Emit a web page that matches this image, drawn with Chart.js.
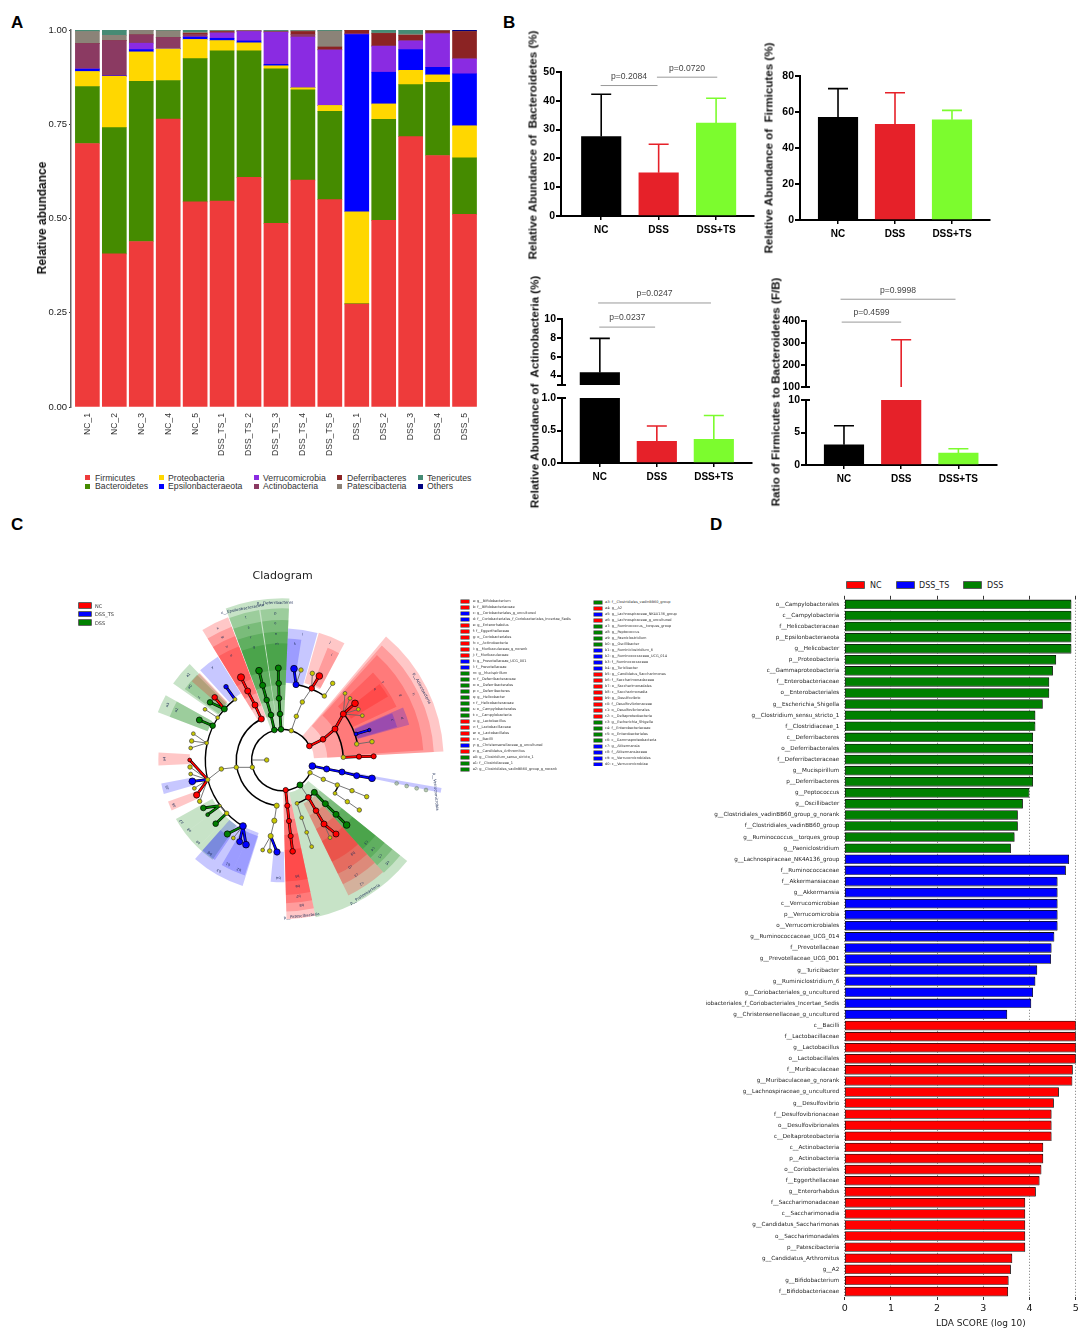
<!DOCTYPE html>
<html lang="en">
  <head>
    <meta charset="UTF-8" />
    <title>Gut microbiota composition, cladogram and LDA scores</title>
    <script src="https://cdn.jsdelivr.net/npm/chart.js"></script>
    <style>
      body { margin: 0; background: #fff; }
      #page { position: relative; width: 1084px; height: 1334px; overflow: hidden; background: #fff; filter: blur(0.35px); }
      #page canvas { position: absolute; }
      .txt { position: absolute; white-space: pre; transform: translateY(-50%); color: #222; }
      .vtxt { position: absolute; white-space: pre; transform: translate(-50%, -50%) rotate(-90deg); color: #111; }
      .swatch { position: absolute; box-sizing: border-box; }
    </style>
  </head>
  <body>
    <div id="page"></div>
    <script>
      const SANS = '"Liberation Sans", Arial, sans-serif';
      const DEJAVU = '"DejaVu Sans", sans-serif';

      // ---- panel A: relative abundance per sample
      const sampleNames = ["NC_1","NC_2","NC_3","NC_4","NC_5","DSS_TS_1","DSS_TS_2","DSS_TS_3","DSS_TS_4","DSS_TS_5","DSS_1","DSS_2","DSS_3","DSS_4","DSS_5"];
      const firmicutes      = [.699,.406,.439,.764,.544,.546,.609,.487,.602,.550,.273,.495,.717,.667,.511];
      const bacteroidetes   = [.151,.335,.425,.102,.380,.399,.336,.410,.239,.234,.001,.268,.138,.194,.150];
      const proteobacteria  = [.040,.136,.078,.084,.051,.027,.021,.008,.006,.016,.244,.041,.038,.020,.085];
      const epsilonbact     = [.006,.001,.006,.000,.006,.006,.005,.004,.000,.000,.470,.084,.055,.020,.138];
      const verrucomicrobia = [.001,.000,.017,.001,.001,.014,.025,.085,.134,.147,.001,.069,.023,.089,.039];
      const actinobacteria  = [.067,.094,.022,.029,.006,.002,.001,.001,.007,.001,.001,.001,.001,.002,.002];
      const deferribacteres = [.000,.000,.000,.000,.003,.002,.000,.000,.008,.007,.009,.033,.014,.006,.071];
      const patescibacteria = [.032,.014,.012,.018,.003,.002,.002,.002,.002,.042,.000,.001,.003,.001,.000];
      const tenericutes     = [.004,.014,.001,.002,.006,.002,.001,.003,.002,.003,.001,.008,.011,.001,.000];
      const others          = [.000,.000,.000,.000,.000,.000,.000,.000,.000,.000,.000,.000,.000,.000,.004];
      const phylumNames  = ["Firmicutes","Bacteroidetes","Proteobacteria","Epsilonbacteraeota","Verrucomicrobia","Actinobacteria","Deferribacteres","Patescibacteria","Tenericutes","Others"];
      const phylumValues = [firmicutes,bacteroidetes,proteobacteria,epsilonbact,verrucomicrobia,actinobacteria,deferribacteres,patescibacteria,tenericutes,others];
      const phylumColors = ["#EE3B3B","#458B00","#FFD700","#0000FF","#8A2BE2","#8B3A62","#8B2323","#8B8378","#458B74","#000080"];
      const abundanceTicks = [0, 0.25, 0.5, 0.75, 1];

      // ---- panel B: group means, upper error values
      const groupNames = ["NC", "DSS", "DSS+TS"];
      const groupColors = ["#000000", "#E62129", "#7CFC2E"];
      const bactMeans = [27.6, 15, 32.3];
      const bactTops = [42.3, 24.9, 40.9];
      const firmMeans = [57, 53.1, 55.7];
      const firmTops = [73, 70.7, 60.9];
      const actinoMeans = [4.33, 0.335, 0.365];
      const actinoTops = [7.95, 0.57, 0.73];
      const ratioMeans = [3.1, 60, 1.83];
      const ratioTops = [6.04, 315, 2.49];
      // from group, to group, height on the value axis, text
      const bactBrackets = [[-0.01, 0.98, 45.3, "p=0.2084"], [0.97, 2.02, 48.2, "p=0.0720"]];
      const actinoBrackets = [[-0.01, 0.97, 9.14, "p=0.0237"], [-0.03, 1.95, 11.7, "p=0.0247"]];
      const ratioBrackets = [[-0.04, 1, 395, "p=0.4599"], [-0.06, 1.95, 499, "p=0.9998"]];

      // ---- panel C: cladogram, drawn in a 1200 x 1110 data space around (667, 600)
      const cladeCentre = [667, 600];
      // start angle, end angle, inner radius, outer radius, clade
      const cladeWedges = [
        [3,50,95,484,"r"],[3,49,135,455,"r"],[4,48,180,424,"r"],[25,44,232,378,"r"],[31,38,240,370,"r"],
        [15.5,23.5,235,395,"b"],[16,23,235,358,"b"],
        [87.5,110.5,95,485,"g"],[98.8,110.5,135,455,"g"],[87.5,98.3,135,455,"g"],[98.8,110.5,180,420,"g"],[87.5,98.3,180,420,"g"],
        [98.8,110.5,225,385,"g"],[87.5,98.3,225,385,"g"],[98.8,110.5,270,350,"g"],[87.5,98.3,270,350,"g"],
        [110.8,121.6,138,458,"r"],[110.8,121.6,175,428,"r"],[110.8,121.6,215,398,"r"],[110.8,121.6,260,365,"r"],
        [74.5,87.5,232,395,"b"],[81,87.5,232,365,"b"],
        [62,74,240,397,"r"],[62,68,245,363,"r"],
        [122,132.5,235,365,"b"],
        [134,145,235,400,"g"],[135,144,235,362,"g"],[133.5,139,240,360,"r"],
        [151,159,240,400,"g"],[151,159,240,362,"g"],
        [176.5,182.5,278,372,"r"],[191,196,278,370,"b"],[200,204.5,280,365,"r"],
        [209,217,240,365,"g"],[217,226,240,365,"g"],[226,235,240,365,"g"],
        [228.5,236,280,362,"b"],[228.6,252.5,240,396,"b"],[240,246,230,364,"b"],[246,252,230,364,"b"],
        [264.5,271,275,367,"b"],
        [271.5,282,95,478,"r"],[271.5,282,135,455,"r"],[271.5,282,180,430,"r"],[271.5,282,225,405,"r"],[271.5,282,270,365,"r"],
        [282,321,100,482,"g"],
        [296,312,145,452,"r"],[296,312,185,415,"r"],[296,312,230,380,"r"],[296,312,270,340,"r"],
        [312,321,145,455,"g"],[312,321,185,425,"g"],[312,321,230,395,"g"],[312,321,270,360,"g"],
        [348.3,350,90,485,"b"],
      ];
      // radius, start angle, end angle of the black backbone arcs
      const cladeArcs = [[92,27,335],[138,117,263],[231,128,239],[183,2.5,30.5],[231,12,37],[230,56.7,79.7],[137,288.7,315],[185,327.7,335.6]];
      const redNodes = [[748,558,2.5],[789,538,2.5],[825,507,2.7],[850,462,2.7],[885,430,3],[897,590,2.3],[941,589,2.3],[755,385,2.5],[778,348,3],[604,477,2.7],[585,435,2.7],[563,393,2.7],[543,352,3.2],[464,412,2.5],[389,600,1.7],[410,705,2.8],[677,690,2.3],[682,737,2.3],[687,783,2.3],[692,828,2.3],[698,874,2.5],[745,712,2.5],[768,752,2.5],[792,792,2.7],[828,822,2.7]];
      const greenNodes = [[663,508,2.5],[660,462,2.5],[657,415,2.5],[656,370,2.5],[655,324,2.7],[643,510,2.5],[633,465,2.5],[620,420,2.5],[608,376,2.7],[597,332,3],[493,447,2.7],[450,427,2.5],[458,497,2.5],[418,480,2.7],[430,744,2.5],[443,764,1.7],[467,791,2.5],[502,822,2.8],[720,675,2.7],[763,697,2.7],[796,731,2.7],[828,763,2.7],[860,795,3]];
      const blueNodes = [[757,618,3],[800,627,2.7],[846,636,2.7],[890,647,2.7],[936,655,3],[708,374,2.7],[702,326,3],[888,522,1.7],[928,510,1.5],[498,380,2],[397,664,3],[549,798,3],[539,845,2.7],[558,854,3],[651,876,2.8]];
      const yellowNodes = [[694,512,2],[709,469,2],[727,426,2],[757,340,2],[723,330,2],[793,408,2],[818,370,2],[850,592,2],[855,400,1.7],[870,415,1.7],[895,448,1.7],[907,467,1.7],[890,552,2],[936,545,2],[525,418,1.7],[473,473,1.7],[435,448,1.7],[440,549,1.7],[400,521,1.7],[395,543,2],[392,564,1.7],[529,622,2],[577,622,2],[620,600,2],[484,627,2],[443,659,2],[390,621,2],[392,642,1.7],[403,685,1.7],[419,724,2],[480,737,1.2],[500,760,2],[520,834,1.7],[650,737,2.3],[643,782,2.3],[632,828,2.3],[608,870,1.7],[629,873,2],[711,730,1.7],[725,773,1.7],[740,817,1.7],[755,860,1.7],[810,833,1.7],[750,638,2],[790,658,2],[832,675,2],[876,692,2],[920,710,2],[825,700,1.7],[862,725,2],[898,750,2]];
      const paleNodes = [[1010,670,1.7],[1040,678,1.7],[1070,685,1.7],[1098,690,1.7]];
      const redEdges = [[[748,558],[789,538],[825,507],[850,462],[885,430]],[[850,592],[897,590],[941,589]],[[755,385],[778,348]],[[604,477],[585,435],[563,393],[543,352]],[[493,447],[464,412]],[[443,659],[389,600]],[[443,659],[410,705]],[[677,690],[682,737],[687,783],[692,828],[698,874]],[[745,712],[768,752],[792,792],[828,822]]];
      const greenEdges = [[[663,508],[660,462],[657,415],[656,370],[655,324]],[[643,510],[633,465],[620,420],[608,376],[597,332]],[[493,447],[450,427]],[[458,497],[418,480]],[[480,737],[430,744]],[[480,737],[443,764]],[[500,760],[467,791]],[[549,798],[502,822]],[[763,697],[796,731],[828,763],[860,795]]];
      const blueEdges = [[[757,618],[800,627],[846,636],[890,647],[936,655]],[[708,374],[702,326]],[[888,522],[928,510]],[[525,418],[498,380]],[[443,659],[397,664]],[[549,798],[539,845]],[[549,798],[558,854]],[[632,828],[651,876]]];
      const grayEdges = [[[694,512],[709,469],[727,426],[755,385]],[[755,385],[757,340]],[[708,374],[723,330]],[[793,408],[818,370]],[[850,462],[855,400]],[[850,462],[870,415]],[[850,462],[895,448]],[[850,462],[907,467]],[[890,552],[936,545]],[[473,473],[435,448]],[[440,549],[400,521]],[[440,549],[395,543]],[[440,549],[392,564]],[[620,600],[576,600]],[[577,622],[529,622],[484,627],[443,659]],[[443,659],[390,621]],[[443,659],[392,642]],[[443,659],[403,685]],[[443,659],[419,724]],[[500,760],[480,737]],[[549,798],[520,834]],[[650,737],[643,782],[632,828],[608,870]],[[632,828],[629,873]],[[711,730],[725,773],[740,817],[755,860]],[[792,792],[810,833]],[[750,638],[790,658],[832,675],[876,692],[920,710]],[[825,700],[862,725],[898,750]],[[720,675],[745,712]]];
      const cladeLetters = [["t",557,172],["s",566,203],["r",573,232],["q",582,262],["p",646,160],["o",646,190],["n",648,222],["m",651,252],["x",473,205],["w",487,232],["v",500,260],["u",513,286],["l",727,224],["k",705,252],["j",810,248],["i",815,285],["h",1060,403],["g",1022,405],["f",967,368],["e",945,388],["c",997,480],["d",1026,475],["y",457,322],["z",417,412],["a1",385,345],["a0",390,380],["a3",323,435],["a2",350,450],["a4",314,597],["a5",322,682],["a6",342,735],["a7",365,785],["a8",388,810],["a9",415,847],["b0",450,880],["b3",477,932],["b1",504,912],["b2",537,928],["b4",655,953],["b5",711,948],["b6",713,978],["b7",715,1008],["b8",725,1035],["b9",878,880],["c0",870,920],["c1",888,945],["c2",905,970],["c3",918,847],["c4",938,867],["c5",960,888],["c6",982,908]];
      const cladeNames = [["p__Actinobacteria",1085,385,62],["c__Epsilonbacteraeota",548,147,-11],["p__Deferribacteres",645,129,-1],["p__Patescibacteria",725,1068,-6],["p__Proteobacteria",915,1003,-33],["p__Verrucomicrobia",1127,695,85]];
      const legendCol1 = [["a: g__Bifidobacterium","r"],["b: f__Bifidobacteriaceae","r"],["c: g__Coriobacteriales_g_uncultured","b"],["d: f__Coriobacteriales_f_Coriobacteriales_Incertae_Sedis","b"],["e: g__Enterorhabdus","r"],["f: f__Eggerthellaceae","r"],["g: o__Coriobacteriales","r"],["h: c__Actinobacteria","r"],["i: g__Muribaculaceae_g_norank","r"],["j: f__Muribaculaceae","r"],["k: g__Prevotellaceae_UCG_001","b"],["l: f__Prevotellaceae","b"],["m: g__Mucispirillum","g"],["n: f__Deferribacteraceae","g"],["o: o__Deferribacterales","g"],["p: c__Deferribacteres","g"],["q: g__Helicobacter","g"],["r: f__Helicobacteraceae","g"],["s: o__Campylobacterales","g"],["t: c__Campylobacteria","g"],["u: g__Lactobacillus","r"],["v: f__Lactobacillaceae","r"],["w: o__Lactobacillales","r"],["x: c__Bacilli","r"],["y: g__Christensenellaceae_g_uncultured","b"],["z: g__Candidatus_Arthromitus","r"],["a0: g__Clostridium_sensu_stricto_1","g"],["a1: f__Clostridiaceae_1","g"],["a2: g__Clostridiales_vadinBB60_group_g_norank","g"]];
      const legendCol2 = [["a3: f__Clostridiales_vadinBB60_group","g"],["a4: g__A2","r"],["a5: g__Lachnospiraceae_NK4A136_group","b"],["a6: g__Lachnospiraceae_g_uncultured","r"],["a7: g__Ruminococcus__torques_group","g"],["a8: g__Peptococcus","g"],["a9: g__Paeniclostridium","g"],["b0: g__Oscillibacter","g"],["b1: g__Ruminiclostridium_6","b"],["b2: g__Ruminococcaceae_UCG_014","b"],["b3: f__Ruminococcaceae","b"],["b4: g__Turicibacter","b"],["b5: g__Candidatus_Saccharimonas","r"],["b6: f__Saccharimonadaceae","r"],["b7: o__Saccharimonadales","r"],["b8: c__Saccharimonadia","r"],["b9: g__Desulfovibrio","r"],["c0: f__Desulfovibrionaceae","r"],["c1: o__Desulfovibrionales","r"],["c2: c__Deltaproteobacteria","r"],["c3: g__Escherichia_Shigella","g"],["c4: f__Enterobacteriaceae","g"],["c5: o__Enterobacteriales","g"],["c6: c__Gammaproteobacteria","g"],["c7: g__Akkermansia","b"],["c8: f__Akkermansiaceae","b"],["c9: o__Verrucomicrobiales","b"],["d0: c__Verrucomicrobiae","b"]];

      // ---- panel D: LDA scores
      const dssLabels = ["o__Campylobacterales","c__Campylobacteria","f__Helicobacteraceae","p__Epsilonbacteraeota","g__Helicobacter","p__Proteobacteria","c__Gammaproteobacteria","f__Enterobacteriaceae","o__Enterobacteriales","g__Escherichia_Shigella","g__Clostridium_sensu_stricto_1","f__Clostridiaceae_1","c__Deferribacteres","o__Deferribacterales","f__Deferribacteraceae","g__Mucispirillum","p__Deferribacteres","g__Peptococcus","g__Oscillibacter","g__Clostridiales_vadinBB60_group_g_norank","f__Clostridiales_vadinBB60_group","g__Ruminococcus__torques_group","g__Paeniclostridium"];
      const dssScores = [4.90,4.90,4.90,4.90,4.90,4.57,4.50,4.42,4.42,4.28,4.12,4.12,4.07,4.07,4.07,4.07,4.07,3.99,3.85,3.74,3.74,3.67,3.59];
      const tsLabels = ["g__Lachnospiraceae_NK4A136_group","f__Ruminococcaceae","f__Akkermansiaceae","g__Akkermansia","c__Verrucomicrobiae","p__Verrucomicrobia","o__Verrucomicrobiales","g__Ruminococcaceae_UCG_014","f__Prevotellaceae","g__Prevotellaceae_UCG_001","g__Turicibacter","g__Ruminiclostridium_6","g__Coriobacteriales_g_uncultured","iobacteriales_f_Coriobacteriales_Incertae_Sedis","g__Christensenellaceae_g_uncultured"];
      const tsScores = [4.85,4.78,4.60,4.60,4.60,4.60,4.60,4.53,4.47,4.46,4.16,4.12,4.07,4.03,3.51];
      const ncLabels = ["c__Bacilli","f__Lactobacillaceae","g__Lactobacillus","o__Lactobacillales","f__Muribaculaceae","g__Muribaculaceae_g_norank","g__Lachnospiraceae_g_uncultured","g__Desulfovibrio","f__Desulfovibrionaceae","o__Desulfovibrionales","c__Deltaproteobacteria","c__Actinobacteria","p__Actinobacteria","o__Coriobacteriales","f__Eggerthellaceae","g__Enterorhabdus","f__Saccharimonadaceae","c__Saccharimonadia","g__Candidatus_Saccharimonas","o__Saccharimonadales","p__Patescibacteria","g__Candidatus_Arthromitus","g__A2","g__Bifidobacterium","f__Bifidobacteriaceae"];
      const ncScores = [5,5,5,5,4.93,4.92,4.63,4.52,4.47,4.47,4.47,4.29,4.29,4.25,4.21,4.13,3.90,3.90,3.90,3.90,3.90,3.62,3.59,3.54,3.53];
      const ldaTicks = [0, 1, 2, 3, 4, 5];

      const cladeColors = { r: "#ff0000", g: "#008000", b: "#0000ff" };
      const page = document.getElementById("page");

      function addCanvas(L, T, W, H) {
        const c = document.createElement("canvas");
        c.width = W;
        c.height = H;
        c.style.left = L + "px";
        c.style.top = T + "px";
        page.appendChild(c);
        return c;
      }
      function addText(text, x, y, font, color) {
        const d = document.createElement("div");
        d.className = "txt";
        d.textContent = text;
        d.style.left = x + "px";
        d.style.top = y + "px";
        d.style.font = font;
        if (color) d.style.color = color;
        page.appendChild(d);
      }
      function addVertical(text, x, y, font) {
        const d = document.createElement("div");
        d.className = "vtxt";
        d.textContent = text;
        d.style.left = x + "px";
        d.style.top = y + "px";
        d.style.font = font;
        page.appendChild(d);
      }
      function addSwatch(x, y, w, h, color, edge) {
        const d = document.createElement("div");
        d.className = "swatch";
        d.style.cssText = `left:${x}px;top:${y}px;width:${w}px;height:${h}px;background:${color};` + (edge ? `box-shadow:0 0 0 ${edge}` : "");
        page.appendChild(d);
      }
      const setTicks = (values) => (scale) => {
        scale.ticks = values.map((value) => ({ value }));
      };

      addText("A", 11, 23, "bold 17px " + SANS, "#000");
      addText("B", 503, 23, "bold 17px " + SANS, "#000");
      addText("C", 11, 525, "bold 17px " + SANS, "#000");
      addText("D", 710, 525, "bold 17px " + SANS, "#000");

      // ---- A
      new Chart(addCanvas(30, 20, 454, 440), {
        type: "bar",
        data: {
          datasets: phylumNames.map((name, i) => ({
            label: name,
            data: phylumValues[i].map((v, j) => ({ x: j, y: v })),
            backgroundColor: phylumColors[i],
            borderWidth: 0,
            barThickness: 24,
          })),
        },
        options: {
          responsive: false,
          animation: false,
          layout: { autoPadding: false, padding: { top: 10, right: 6, left: 0, bottom: 0 } },
          plugins: { legend: { display: false }, tooltip: { enabled: false } },
          scales: {
            x: {
              type: "linear", stacked: true, offset: false, min: -0.608, max: 14.5,
              afterBuildTicks: setTicks(sampleNames.map((_, i) => i)),
              afterFit: (s) => { s.height = 53; },
              border: { display: false },
              grid: { offset: false, drawOnChartArea: false, tickColor: "rgba(0,0,0,0)", tickLength: 4 },
              ticks: {
                autoSkip: false, minRotation: 90, maxRotation: 90, padding: 2,
                color: "#333", font: { family: SANS, size: 8.6 },
                callback: (v) => sampleNames[v],
              },
            },
            y: {
              stacked: true, min: 0, max: 1,
              afterBuildTicks: setTicks(abundanceTicks),
              afterFit: (s) => { s.width = 41; },
              border: { color: "#666", width: 1.5 },
              grid: { drawOnChartArea: false, tickColor: "#333", tickLength: 2 },
              ticks: {
                autoSkip: false, color: "#222", padding: 2, font: { family: SANS, size: 9.5 },
                callback: (v) => v.toFixed(2),
              },
            },
          },
        },
      });
      addVertical("Relative abundance", 41.5, 218, "bold 12px " + SANS);
      const legendColsA = [[85, 95], [159, 168], [254, 263], [337, 347], [418, 427]];
      phylumNames.forEach((name, i) => {
        const col = legendColsA[Math.floor(i / 2)];
        const y = i % 2 ? 486 : 477.5;
        addSwatch(col[0], y - 2.5, 5, 5, phylumColors[i]);
        addText(name, col[1], y, "8.7px " + SANS, "#333");
      });

      // ---- B
      const errorBars = {
        id: "errorBars",
        afterDatasetsDraw(chart, args, opts) {
          const { ctx, scales: { x, y } } = chart;
          ctx.save();
          ctx.lineWidth = 1.6;
          opts.tops.forEach((top, i) => {
            if (top < y.min || top > y.max) return;
            const px = x.getPixelForValue(i);
            const base = y.getPixelForValue(Math.max(opts.means[i], y.min));
            const pt = y.getPixelForValue(top);
            ctx.strokeStyle = groupColors[i];
            ctx.beginPath();
            ctx.moveTo(px, base);
            ctx.lineTo(px, pt);
            ctx.moveTo(px - 10, pt);
            ctx.lineTo(px + 10, pt);
            ctx.stroke();
          });
          (opts.brackets || []).forEach(([from, to, value, text]) => {
            const py = y.getPixelForValue(value);
            ctx.strokeStyle = "#999";
            ctx.lineWidth = 1;
            ctx.beginPath();
            ctx.moveTo(x.getPixelForValue(from), py);
            ctx.lineTo(x.getPixelForValue(to), py);
            ctx.stroke();
            ctx.fillStyle = "#444";
            ctx.font = "8.6px " + SANS;
            ctx.textAlign = "center";
            ctx.textBaseline = "middle";
            ctx.fillText(text, x.getPixelForValue((from + to) / 2), py - 9);
          });
          if (opts.breakAt !== undefined) {
            const py = y.getPixelForValue(opts.breakAt);
            ctx.strokeStyle = "#000";
            ctx.lineWidth = 2;
            ctx.beginPath();
            ctx.moveTo(x.left, py);
            ctx.lineTo(x.left + 4, py);
            ctx.stroke();
          }
          ctx.restore();
        },
      };
      function drawBarPanel(p) {
        const [l, t, r, b] = p.area;
        const L = l - 40, T = t - 45, W = r - L + 6, H = b + 28 - T;
        new Chart(addCanvas(L, T, W, H), {
          type: "bar",
          data: {
            datasets: [{
              data: p.means.map((v, i) => ({ x: i, y: v })),
              backgroundColor: groupColors,
              borderWidth: 0,
              barThickness: 39.5,
            }],
          },
          options: {
            responsive: false,
            animation: false,
            layout: { autoPadding: false, padding: { top: 45, right: 6, left: 0, bottom: 0 } },
            plugins: {
              legend: { display: false }, tooltip: { enabled: false },
              errorBars: { means: p.means, tops: p.tops, brackets: p.brackets, breakAt: p.breakAt },
            },
            scales: {
              x: {
                type: "linear", display: p.showX, offset: false, min: p.xMin, max: p.xMax,
                afterBuildTicks: setTicks([0, 1, 2]),
                afterFit: (s) => { s.height = 28; },
                border: { color: "#000", width: 2 },
                grid: { offset: false, drawOnChartArea: false, tickColor: "#000", tickLength: 4, lineWidth: 1.5 },
                ticks: {
                  autoSkip: false, maxRotation: 0, minRotation: 0, padding: 4, color: "#000",
                  font: { family: SANS, size: 10, weight: "bold" },
                  callback: (v) => groupNames[v],
                },
              },
              y: {
                min: p.yMin, max: p.yMax,
                afterBuildTicks: setTicks(p.yTicks),
                afterFit: (s) => { s.width = 40; },
                border: { color: "#000", width: 2 },
                grid: { drawOnChartArea: false, tickColor: "#000", tickLength: 5, lineWidth: 2 },
                ticks: {
                  autoSkip: false, padding: 1, color: "#000",
                  font: { family: SANS, size: 10.5, weight: "bold" },
                  callback: p.yFormat,
                },
              },
            },
          },
          plugins: [errorBars],
        });
      }
      const plain = (v) => v;
      const titleFont = "bold 11.6px " + SANS;
      drawBarPanel({ area: [560.7, 72, 754, 216.7], xMin: -0.7, xMax: 2.66, yMin: 0, yMax: 50, yTicks: [0, 10, 20, 30, 40, 50], yFormat: plain, means: bactMeans, tops: bactTops, brackets: bactBrackets, showX: true });
      addVertical("Relative Abundance of  Bacteroidetes (%)", 531.5, 145, titleFont);
      drawBarPanel({ area: [800, 76, 990, 220], xMin: -0.667, xMax: 2.667, yMin: 0, yMax: 80, yTicks: [0, 20, 40, 60, 80], yFormat: plain, means: firmMeans, tops: firmTops, showX: true });
      addVertical("Relative Abundance of  Firmicutes (%)", 768.3, 148, titleFont);
      // broken axes: one chart for each part
      drawBarPanel({ area: [562.3, 318.7, 753, 385], xMin: -0.664, xMax: 2.67, yMin: 3, yMax: 10, yTicks: [3, 4, 6, 8, 10], yFormat: (v) => (v === 3 ? "" : v), means: actinoMeans, tops: actinoTops, brackets: actinoBrackets, breakAt: 3, showX: false });
      drawBarPanel({ area: [562.3, 397.7, 753, 463.3], xMin: -0.664, xMax: 2.67, yMin: 0, yMax: 1, yTicks: [0, 0.5, 1], yFormat: (v) => v.toFixed(1), means: actinoMeans, tops: actinoTops, breakAt: 1, showX: true });
      addVertical("Relative Abundance of  Actinobacteria (%)", 534, 392, titleFont);
      drawBarPanel({ area: [805.7, 321, 996.7, 387.3], xMin: -0.664, xMax: 2.675, yMin: 100, yMax: 400, yTicks: [100, 200, 300, 400], yFormat: plain, means: ratioMeans, tops: ratioTops, brackets: ratioBrackets, breakAt: 100, showX: false });
      drawBarPanel({ area: [805.7, 400, 996.7, 465.7], xMin: -0.664, xMax: 2.675, yMin: 0, yMax: 10, yTicks: [0, 5, 10], yFormat: plain, means: ratioMeans, tops: ratioTops, breakAt: 10, showX: true });
      addVertical("Ratio of Firmicutes to Bacteroidetes (F/B)", 775, 392, titleFont);

      // ---- C
      const cladeDecor = {
        id: "cladeDecor",
        beforeDatasetsDraw(chart) {
          const { ctx, scales: { x, y } } = chart;
          const k = (x.getPixelForValue(100) - x.getPixelForValue(0)) / 100;
          const cx = x.getPixelForValue(cladeCentre[0]);
          const cy = y.getPixelForValue(cladeCentre[1]);
          const rad = (a) => (-a * Math.PI) / 180;
          ctx.save();
          cladeWedges.forEach(([a0, a1, r0, r1, c]) => {
            ctx.beginPath();
            ctx.arc(cx, cy, r1 * k, rad(a0), rad(a1), true);
            ctx.arc(cx, cy, r0 * k, rad(a1), rad(a0), false);
            ctx.closePath();
            ctx.globalAlpha = 0.22;
            ctx.fillStyle = cladeColors[c];
            ctx.fill();
          });
          ctx.globalAlpha = 1;
          ctx.strokeStyle = "#000";
          ctx.lineWidth = 1.5;
          cladeArcs.forEach(([r, a0, a1]) => {
            ctx.beginPath();
            ctx.arc(cx, cy, r * k, rad(a0), rad(a1), true);
            ctx.stroke();
          });
          ctx.restore();
        },
        afterDatasetsDraw(chart) {
          const { ctx, scales: { x, y } } = chart;
          ctx.save();
          ctx.textAlign = "center";
          ctx.textBaseline = "middle";
          ctx.fillStyle = "#1a2a55";
          const place = (text, px, py, angle, font) => {
            ctx.save();
            ctx.translate(x.getPixelForValue(px), y.getPixelForValue(py));
            ctx.rotate(angle);
            ctx.font = font;
            ctx.fillText(text, 0, 0);
            ctx.restore();
          };
          cladeLetters.forEach(([text, px, py]) => {
            const angle = Math.atan2(py - cladeCentre[1], px - cladeCentre[0]) + Math.PI / 2;
            place(text, px, py, angle, "3.6px " + DEJAVU);
          });
          cladeNames.forEach(([text, px, py, deg]) => {
            place(text, px, py, (deg * Math.PI) / 180, "3.9px " + DEJAVU);
          });
          ctx.restore();
        },
      };
      const flatten = (paths) => paths.flatMap((p) => [...p.map(([x, y]) => ({ x, y })), { x: null, y: null }]);
      const lineSet = (paths, color, width, order) => ({
        type: "scatter", showLine: true, spanGaps: false, pointRadius: 0,
        borderColor: color, borderWidth: width, order, data: flatten(paths),
      });
      const nodeSet = (nodes, color, edge) => ({
        type: "scatter", showLine: false, order: 0,
        data: nodes.map(([x, y]) => ({ x, y })),
        pointRadius: nodes.map((n) => n[2] * 1.12),
        backgroundColor: color, borderColor: edge, borderWidth: 0.7,
      });
      const markedEdges = [...redEdges, ...greenEdges, ...blueEdges];
      new Chart(addCanvas(60, 560, 400, 370), {
        type: "scatter",
        data: {
          datasets: [
            nodeSet(redNodes, cladeColors.r, "#000"),
            nodeSet(greenNodes, cladeColors.g, "#000"),
            nodeSet(blueNodes, cladeColors.b, "#000"),
            nodeSet(yellowNodes, "#c8c800", "#444"),
            nodeSet(paleNodes, "rgba(140,170,130,0.6)", "rgba(90,110,90,0.6)"),
            lineSet(redEdges, cladeColors.r, 1.7, 1),
            lineSet(greenEdges, cladeColors.g, 1.7, 1),
            lineSet(blueEdges, cladeColors.b, 1.7, 1),
            lineSet(markedEdges, "#000", 2.8, 2),
            lineSet(grayEdges, "#666", 0.9, 3),
          ],
        },
        options: {
          responsive: false,
          animation: false,
          layout: { autoPadding: false, padding: 0 },
          plugins: { legend: { display: false }, tooltip: { enabled: false } },
          scales: {
            x: { type: "linear", display: false, min: 0, max: 1200 },
            y: { type: "linear", display: false, min: 0, max: 1110, reverse: true },
          },
        },
        plugins: [cladeDecor],
      });
      addText("Cladogram", 252.5, 574.5, "11px " + DEJAVU, "#222");
      [["NC", cladeColors.r, 605.7], ["DSS_TS", cladeColors.b, 614], ["DSS", cladeColors.g, 622.5]].forEach(([name, color, y]) => {
        addSwatch(78.5, y - 2.3, 12.5, 4.6, color, "0.7px #222");
        addText(name, 95, y, "5px " + DEJAVU, "#333");
      });
      const cladeLegend = (rows, swatchX, textX, firstY) => {
        rows.forEach(([text, c], i) => {
          const y = firstY + i * 6;
          addSwatch(swatchX, y - 1.5, 8, 3, cladeColors[c], "0.5px #333");
          addText(text, textX, y, "3.5px " + DEJAVU, "#333");
        });
      };
      cladeLegend(legendCol1, 461, 472.7, 601.3);
      cladeLegend(legendCol2, 593.5, 605, 602);

      // ---- D
      const ldaLabels = [...dssLabels, ...tsLabels, ...ncLabels];
      const ldaScores = [...dssScores, ...tsScores, ...ncScores];
      const ldaColors = [
        ...dssScores.map(() => cladeColors.g),
        ...tsScores.map(() => cladeColors.b),
        ...ncScores.map(() => cladeColors.r),
      ];
      // the gray edge under each LDA bar
      const barShadow = {
        id: "barShadow",
        beforeDatasetDraw(chart) {
          chart.ctx.save();
          chart.ctx.shadowColor = "rgba(120,120,120,0.8)";
          chart.ctx.shadowOffsetY = 1.4;
          chart.ctx.shadowBlur = 0.5;
        },
        afterDatasetDraw(chart) {
          chart.ctx.restore();
        },
      };
      new Chart(addCanvas(700, 590, 384, 744), {
        type: "bar",
        data: {
          labels: ldaLabels,
          datasets: [{
            data: ldaScores,
            backgroundColor: ldaColors,
            borderColor: "#111",
            borderWidth: 0.8,
            borderSkipped: false,
            barThickness: 8.8,
          }],
        },
        options: {
          indexAxis: "y",
          responsive: false,
          animation: false,
          layout: { autoPadding: false, padding: { top: 0, right: 8.3, left: 0, bottom: 0 } },
          plugins: { legend: { display: false }, tooltip: { enabled: false } },
          scales: {
            x: {
              type: "linear", position: "bottom", offset: false, min: 0, max: 5,
              afterBuildTicks: setTicks(ldaTicks),
              afterFit: (s) => { s.height = 37; },
              border: { display: false, dash: [1, 2] },
              grid: { offset: false, color: "#777", tickColor: "#333", tickLength: 3, tickBorderDash: [] },
              ticks: { padding: 3, color: "#111", font: { family: DEJAVU, size: 9.5 } },
            },
            x2: {
              type: "linear", position: "top", offset: false, min: 0, max: 5,
              afterBuildTicks: setTicks(ldaTicks),
              afterFit: (s) => { s.height = 8; },
              border: { display: false },
              grid: { offset: false, drawOnChartArea: false, tickColor: "#333", tickLength: 3 },
              ticks: { display: false },
            },
            y: {
              type: "category",
              afterFit: (s) => { s.width = 144.7; },
              border: { display: false },
              grid: { display: false, drawTicks: false },
              ticks: { autoSkip: false, padding: 5.4, color: "#222", font: { family: DEJAVU, size: 5.65 } },
            },
          },
        },
        plugins: [barShadow],
      });
      addText("LDA SCORE (log 10)", 936, 1323, "9px " + DEJAVU, "#222");
      [["NC", cladeColors.r, 847, 870], ["DSS_TS", cladeColors.b, 897, 919], ["DSS", cladeColors.g, 964, 987]].forEach(([name, color, sx, tx]) => {
        addSwatch(sx, 582, 17, 6, color, "0.8px #333");
        addText(name, tx, 585, "8px " + DEJAVU, "#222");
      });
    </script>
  </body>
</html>
